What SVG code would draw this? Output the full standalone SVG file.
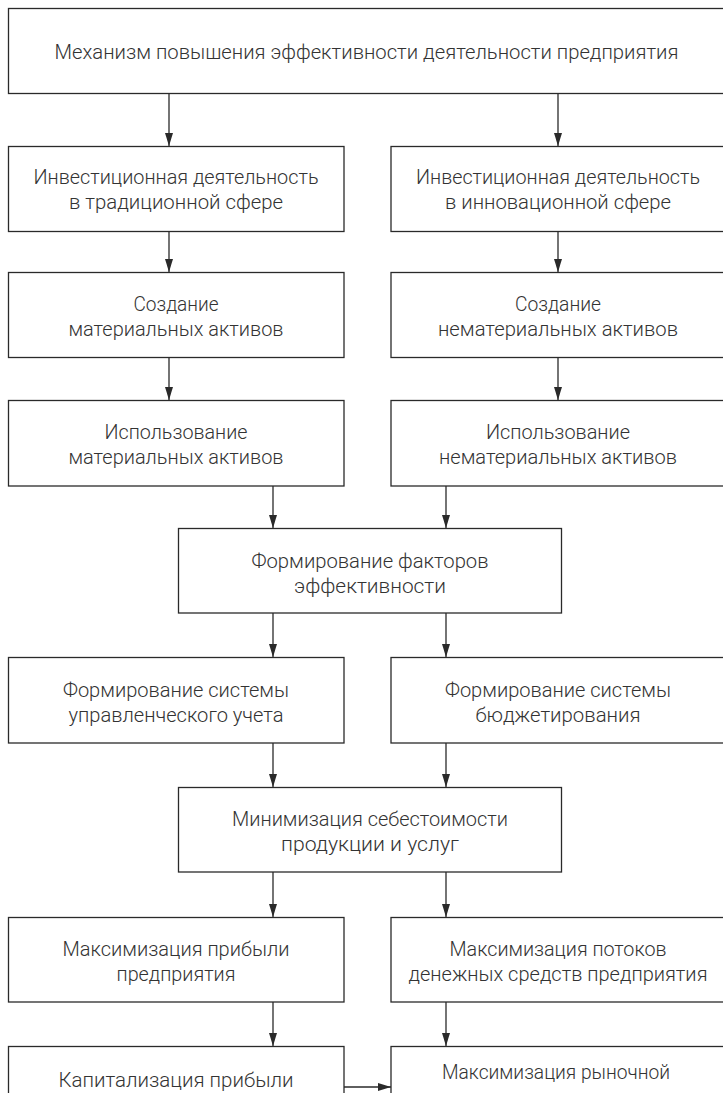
<svg xmlns="http://www.w3.org/2000/svg" width="723" height="1093" viewBox="0 0 723 1093">
<defs>
<style>
.box{fill:#fff;stroke:#2a2a2a;stroke-width:1.3}
.t{font-family:Roboto,"Liberation Sans",sans-serif;font-weight:300;font-size:21px;fill:#333;text-anchor:middle}
.c{stroke:#2a2a2a;stroke-width:1.3;fill:none;marker-end:url(#ah)}
</style>
<marker id="ah" markerUnits="userSpaceOnUse" markerWidth="13" markerHeight="8" refX="13" refY="4" orient="auto">
<path d="M0,0 L13,4 L0,8 z" fill="#2a2a2a"/>
</marker>
</defs>
<rect width="723" height="1093" fill="#fff"/>
<g id="connectors">
<line class="c" x1="169" y1="93" x2="169" y2="146"/>
<line class="c" x1="558" y1="93" x2="558" y2="146"/>
<line class="c" x1="169" y1="231" x2="169" y2="272"/>
<line class="c" x1="558" y1="231" x2="558" y2="272"/>
<line class="c" x1="169" y1="357" x2="169" y2="400"/>
<line class="c" x1="558" y1="357" x2="558" y2="400"/>
<line class="c" x1="273" y1="486" x2="273" y2="528"/>
<line class="c" x1="446" y1="486" x2="446" y2="528"/>
<line class="c" x1="273" y1="613" x2="273" y2="657"/>
<line class="c" x1="446" y1="613" x2="446" y2="657"/>
<line class="c" x1="273" y1="743" x2="273" y2="787"/>
<line class="c" x1="446" y1="743" x2="446" y2="787"/>
<line class="c" x1="273" y1="872" x2="273" y2="917"/>
<line class="c" x1="446" y1="872" x2="446" y2="917"/>
<line class="c" x1="273" y1="1002" x2="273" y2="1046"/>
<line class="c" x1="446" y1="1002" x2="446" y2="1046"/>
<line class="c" x1="344" y1="1087" x2="391" y2="1087"/>
</g>
<g id="n_top">
<rect class="box" x="8.5" y="8.5" width="717" height="85"/>
<text class="t" x="366.5" y="59" textLength="624" lengthAdjust="spacingAndGlyphs">Механизм повышения эффективности деятельности предприятия</text>
</g>
<g id="n_inv_trad">
<rect class="box" x="8.5" y="146.5" width="335.5" height="85"/>
<text class="t" x="176" y="184" textLength="285" lengthAdjust="spacingAndGlyphs">Инвестиционная деятельность</text>
<text class="t" x="176" y="209" textLength="214" lengthAdjust="spacingAndGlyphs">в традиционной сфере</text>
</g>
<g id="n_inv_innov">
<rect class="box" x="391" y="146.5" width="334" height="85"/>
<text class="t" x="558" y="184" textLength="284" lengthAdjust="spacingAndGlyphs">Инвестиционная деятельность</text>
<text class="t" x="558" y="209" textLength="226" lengthAdjust="spacingAndGlyphs">в инновационной сфере</text>
</g>
<g id="n_create_mat">
<rect class="box" x="8.5" y="272.5" width="335.5" height="85"/>
<text class="t" x="176" y="311" textLength="85" lengthAdjust="spacingAndGlyphs">Создание</text>
<text class="t" x="176" y="336" textLength="215" lengthAdjust="spacingAndGlyphs">материальных активов</text>
</g>
<g id="n_create_nonmat">
<rect class="box" x="391" y="272.5" width="334" height="85"/>
<text class="t" x="558" y="311" textLength="86" lengthAdjust="spacingAndGlyphs">Создание</text>
<text class="t" x="558" y="336" textLength="240" lengthAdjust="spacingAndGlyphs">нематериальных активов</text>
</g>
<g id="n_use_mat">
<rect class="box" x="8.5" y="400.5" width="335.5" height="85.5"/>
<text class="t" x="176" y="439" textLength="143" lengthAdjust="spacingAndGlyphs">Использование</text>
<text class="t" x="176" y="464" textLength="215" lengthAdjust="spacingAndGlyphs">материальных активов</text>
</g>
<g id="n_use_nonmat">
<rect class="box" x="391" y="400.5" width="334" height="85.5"/>
<text class="t" x="558" y="439" textLength="144" lengthAdjust="spacingAndGlyphs">Использование</text>
<text class="t" x="558" y="464" textLength="238" lengthAdjust="spacingAndGlyphs">нематериальных активов</text>
</g>
<g id="n_factors">
<rect class="box" x="178.5" y="528.5" width="383" height="84.5"/>
<text class="t" x="370" y="568" textLength="237" lengthAdjust="spacingAndGlyphs">Формирование факторов</text>
<text class="t" x="370" y="593" textLength="152" lengthAdjust="spacingAndGlyphs">эффективности</text>
</g>
<g id="n_mgmt_acc">
<rect class="box" x="8.5" y="657.5" width="335.5" height="85.5"/>
<text class="t" x="176" y="697" textLength="226" lengthAdjust="spacingAndGlyphs">Формирование системы</text>
<text class="t" x="176" y="722" textLength="215" lengthAdjust="spacingAndGlyphs">управленческого учета</text>
</g>
<g id="n_budget">
<rect class="box" x="391" y="657.5" width="334" height="85.5"/>
<text class="t" x="558" y="697" textLength="226" lengthAdjust="spacingAndGlyphs">Формирование системы</text>
<text class="t" x="558" y="722" textLength="165" lengthAdjust="spacingAndGlyphs">бюджетирования</text>
</g>
<g id="n_costmin">
<rect class="box" x="178.5" y="787.5" width="383" height="84.5"/>
<text class="t" x="370" y="826" textLength="276" lengthAdjust="spacingAndGlyphs">Минимизация себестоимости</text>
<text class="t" x="370" y="851" textLength="178" lengthAdjust="spacingAndGlyphs">продукции и услуг</text>
</g>
<g id="n_profit">
<rect class="box" x="8.5" y="917.5" width="335.5" height="84.5"/>
<text class="t" x="176" y="956" textLength="227" lengthAdjust="spacingAndGlyphs">Максимизация прибыли</text>
<text class="t" x="176" y="981" textLength="119" lengthAdjust="spacingAndGlyphs">предприятия</text>
</g>
<g id="n_cashflow">
<rect class="box" x="391" y="917.5" width="334" height="84.5"/>
<text class="t" x="558" y="956" textLength="217" lengthAdjust="spacingAndGlyphs">Максимизация потоков</text>
<text class="t" x="558" y="981" textLength="299" lengthAdjust="spacingAndGlyphs">денежных средств предприятия</text>
</g>
<g id="n_capital">
<rect class="box" x="8.5" y="1046.5" width="335.5" height="90"/>
<text class="t" x="176" y="1087" textLength="235" lengthAdjust="spacingAndGlyphs">Капитализация прибыли</text>
</g>
<g id="n_market">
<rect class="box" x="391" y="1046.5" width="334" height="90"/>
<text class="t" x="556" y="1079" textLength="228" lengthAdjust="spacingAndGlyphs">Максимизация рыночной</text>
</g>
</svg>
